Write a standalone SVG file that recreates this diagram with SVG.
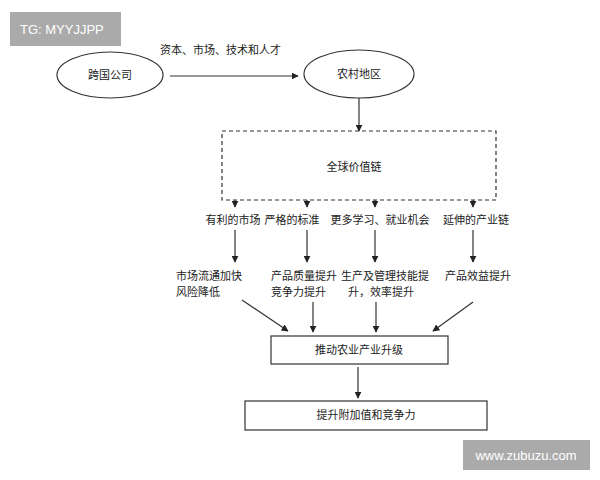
<svg xmlns="http://www.w3.org/2000/svg" width="600" height="480" viewBox="0 0 600 480">
<style>
text{font-family:"Liberation Serif","Noto Sans CJK SC",serif;font-size:11px;fill:#222;text-anchor:middle}
.s{fill:none;stroke:#333;stroke-width:1.2}
.c line{stroke:#333;stroke-width:1.2;marker-end:url(#a)}
.wm{fill:#aaa}
.wt{font-family:"Liberation Sans",sans-serif;fill:#fff;font-size:13px}
</style>
<defs><marker id="a" viewBox="0 0 10 10" refX="9" refY="5" markerWidth="7" markerHeight="7" orient="auto" markerUnits="userSpaceOnUse"><path d="M0,0L10,5L0,10z" fill="#222"/></marker></defs>
<rect width="600" height="480" fill="#fff"/>
<rect class="wm" x="10" y="12" width="111" height="34"/>
<text class="wt" x="20" y="34" style="text-anchor:start">TG: MYYJJPP</text>
<g id="n1"><ellipse class="s" cx="110" cy="75" rx="53" ry="23"/><text x="110" y="79">跨国公司</text></g>
<g id="n2"><ellipse class="s" cx="359" cy="74" rx="55" ry="24"/><text x="359" y="78">农村地区</text></g>
<g id="n3"><rect class="s" x="222" y="131" width="274" height="69" stroke-dasharray="4,3"/><text x="354" y="171">全球价值链</text></g>
<g id="l1"><text x="233" y="224">有利的市场</text><text x="176" y="280" style="text-anchor:start">市场流通加快</text><text x="176" y="296" style="text-anchor:start">风险降低</text></g>
<g id="l2"><text x="292" y="224">严格的标准</text><text x="271" y="280" style="text-anchor:start">产品质量提升</text><text x="271" y="296" style="text-anchor:start">竞争力提升</text></g>
<g id="l3"><text x="380" y="224">更多学习、就业机会</text><text x="385" y="280">生产及管理技能提</text><text x="381" y="296">升，效率提升</text></g>
<g id="l4"><text x="476" y="224">延伸的产业链</text><text x="478" y="280">产品效益提升</text></g>
<g id="n4"><rect class="s" x="271" y="336" width="177" height="28"/><text x="359" y="354">推动农业产业升级</text></g>
<g id="n5"><rect class="s" x="245" y="401" width="242" height="29"/><text x="366" y="419">提升附加值和竞争力</text></g>
<text x="160" y="54" style="text-anchor:start">资本、市场、技术和人才</text>
<g class="c">
<line x1="170" y1="76" x2="298" y2="76"/>
<line x1="359" y1="98" x2="359" y2="131"/>
<line x1="235" y1="200" x2="235" y2="207"/>
<line x1="307" y1="200" x2="307" y2="207"/>
<line x1="375" y1="200" x2="375" y2="207"/>
<line x1="473" y1="200" x2="473" y2="207"/>
<line x1="235" y1="230" x2="235" y2="262"/>
<line x1="307" y1="230" x2="307" y2="262"/>
<line x1="375" y1="230" x2="375" y2="262"/>
<line x1="473" y1="230" x2="473" y2="262"/>
<line x1="242" y1="300" x2="288" y2="331"/>
<line x1="313" y1="302" x2="313" y2="332"/>
<line x1="376" y1="302" x2="376" y2="332"/>
<line x1="473" y1="302" x2="433" y2="331"/>
<line x1="358" y1="367" x2="358" y2="398"/>
</g>
<rect class="wm" x="463" y="440" width="127" height="30"/>
<text class="wt" x="526" y="460">www.zubuzu.com</text>
</svg>
